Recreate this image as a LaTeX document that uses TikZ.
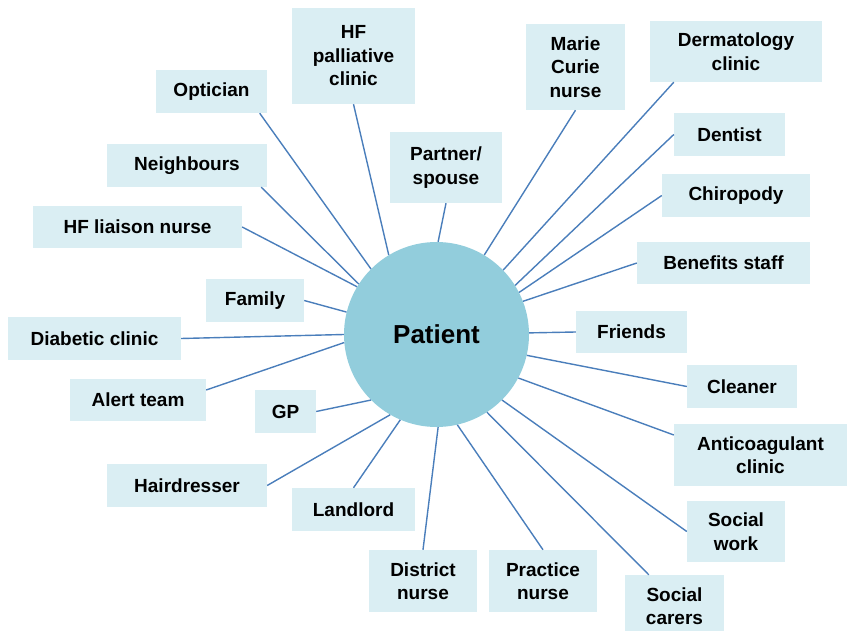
\documentclass[tikz,border=0pt]{standalone}
\usepackage{fontspec}
\setmainfont{Liberation Sans}
\usepackage{tikz}
\usetikzlibrary{positioning,calc}

\definecolor{boxfill}{HTML}{DAEEF3}
\definecolor{patfill}{HTML}{92CDDC}
\definecolor{linkblue}{HTML}{4A7EBB}

\begin{document}
\begin{tikzpicture}[x=1pt,y=-1pt]
\useasboundingbox (0,0) rectangle (847,631);

\tikzstyle{agent}=[fill=boxfill,draw=none,inner sep=0pt,align=center,font=\fontsize{19}{23.5}\selectfont\bfseries]
\tikzstyle{link}=[draw=linkblue,line width=1.4pt]

   %centre
   \node (patient) [circle,fill=patfill,minimum size=185pt,inner sep=0pt,font=\fontsize{26}{30}\selectfont\bfseries] at (436.5,334.5) {Patient};

   %top left
   \node (optician)   [agent,minimum width=111pt,minimum height=43pt] at (211.5,91.5) {Optician};
   \node (palliative) [agent,minimum width=123pt,minimum height=96pt] at (353.5,56) {HF\\palliative\\clinic};
   \node (neighbours) [agent,minimum width=160pt,minimum height=43pt] at (187,165.5) {Neighbours};
   \node (liaison)    [agent,minimum width=209pt,minimum height=42pt] at (137.5,227) {HF liaison nurse};
   \node (family)     [agent,minimum width=98pt,minimum height=43pt] at (255,300.5) {Family};
   \node (partner)    [agent,minimum width=112pt,minimum height=71pt] at (446,167.5) {Partner/\\spouse};

   %top right
   \node (curie)   [agent,minimum width=99pt,minimum height=86pt] at (575.5,67) {Marie\\Curie\\nurse};
   \node (derma)   [agent,minimum width=172pt,minimum height=61pt] at (736,51.5) {Dermatology\\clinic};
   \node (dentist) [agent,minimum width=111pt,minimum height=43pt] at (729.5,134.5) {Dentist};
   \node (chiro)   [agent,minimum width=148pt,minimum height=43pt] at (736,195.5) {Chiropody};
   \node (benefit) [agent,minimum width=173pt,minimum height=42pt] at (723.5,263) {Benefits staff};
   \node (friends) [agent,minimum width=111pt,minimum height=42pt] at (631.5,332) {Friends};

   %bottom right
   \node (cleaner)  [agent,minimum width=110pt,minimum height=43pt] at (742,386.5) {Cleaner};
   \node (anticoag) [agent,minimum width=173pt,minimum height=62pt] at (760.5,455) {Anticoagulant\\clinic};
   \node (socwork)  [agent,minimum width=98pt,minimum height=61pt] at (736,531.5) {Social\\work};
   \node (carers)   [agent,minimum width=99pt,minimum height=62pt] at (674.5,606) {Social\\carers};
   \node (practice) [agent,minimum width=108pt,minimum height=62pt] at (543,581) {Practice\\nurse};
   \node (district) [agent,minimum width=108pt,minimum height=62pt] at (423,581) {District\\nurse};

   %bottom left
   \node (landlord) [agent,minimum width=123pt,minimum height=43pt] at (353.5,509.5) {Landlord};
   \node (hair)     [agent,minimum width=160pt,minimum height=43pt] at (187,485.5) {Hairdresser};
   \node (gp)       [agent,minimum width=61pt,minimum height=43pt] at (285.5,411.5) {GP};
   \node (alert)    [agent,minimum width=136pt,minimum height=42pt] at (138,400) {Alert team};
   \node (diabetic) [agent,minimum width=173pt,minimum height=43pt] at (94.5,338.5) {Diabetic clinic};

   %links
   \draw [link] ([xshift=-7.5pt]optician.south east) -- (patient.135);
   \draw [link] (palliative.south) -- (patient.121.7);
   \draw [link] ([xshift=-6pt]neighbours.south east) -- (patient.147.8);
   \draw [link] (liaison.east) -- (patient.149.7);
   \draw [link] (family.east) -- (patient.166.5);
   \draw [link] (partner.south) -- (patient.89.7);

   \draw [link] (curie.south) -- (patient.59.1);
   \draw [link] ([xshift=24pt]derma.south west) -- (patient.44.6);
   \draw [link] (dentist.west) -- (patient.32.2);
   \draw [link] (chiro.west) -- (patient.27.3);
   \draw [link] (benefit.west) -- (patient.21.7);
   \draw [link] (friends.west) -- (patient.1);

   \draw [link] (cleaner.west) -- (patient.-13.4);
   \draw [link] ([yshift=20pt]anticoag.west) -- (patient.-28.6);
   \draw [link] (socwork.west) -- (patient.-45);
   \draw [link] ([xshift=24pt]carers.north west) -- (patient.-57.2);
   \draw [link] (practice.north) -- (patient.-77.8);
   \draw [link] (district.north) -- (patient.-89);

   \draw [link] (landlord.north) -- (patient.-113.7);
   \draw [link] (hair.east) -- (patient.-120);
   \draw [link] (gp.east) -- (patient.-135);
   \draw [link] ([yshift=10pt]alert.east) -- (patient.185.3);
   \draw [link] (diabetic.east) -- (patient.180);

\end{tikzpicture}
\end{document}
